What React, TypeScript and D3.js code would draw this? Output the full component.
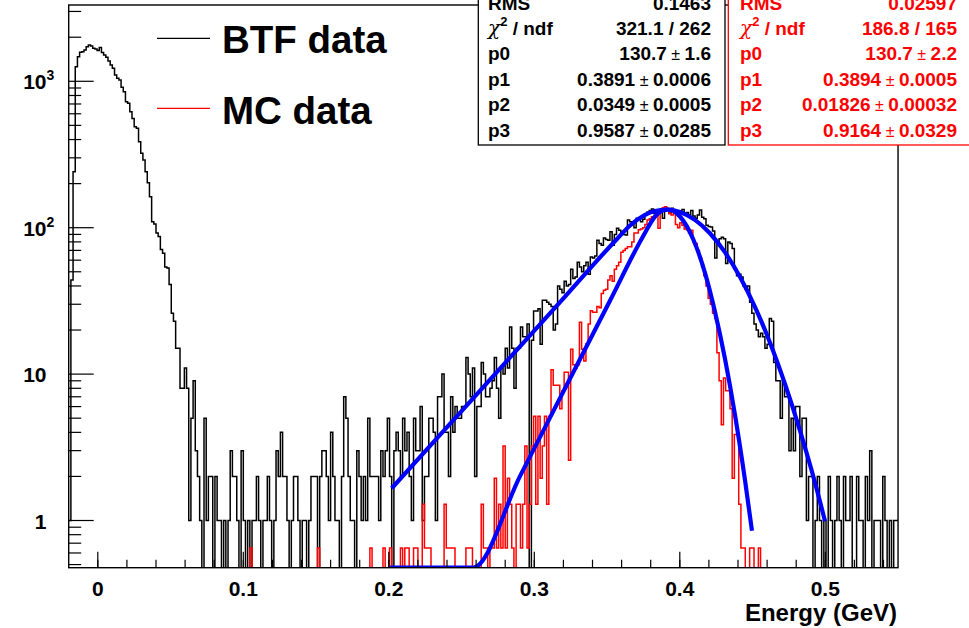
import React from 'react';
import * as d3 from 'd3';

// Histogram binning (TH1 style)
const BIN_LOW = -0.02;
const BIN_WIDTH = 0.0015;

// BTF data counts per bin
const btfCounts = [
  1, 44, 241, 1259, 1472, 1578, 1594, 1636, 1722, 1770, 1745, 1680, 1660, 1620, 1700, 1575, 1513, 1460, 1376, 1291,
  1226, 1105, 1050, 1020, 910, 849, 726, 707, 620, 558, 490, 478, 387, 322, 290, 241, 203, 163, 110, 106,
  92, 87, 71, 67, 54, 53, 41, 26, 23, 15, 15, 8, 8, 11, 8, 1, 5, 9, 3, 2,
  1, 0, 5, 1, 2, 2, 0, 2, 1, 1, 0, 1, 0, 1, 3, 2, 2, 1, 0, 3,
  1, 0, 1, 0, 1, 1, 2, 1, 0, 1, 1, 2, 1, 0, 1, 3, 2, 4, 2, 2,
  1, 0, 1, 2, 2, 1, 0, 1, 1, 0, 1, 2, 2, 2, 0, 2, 3, 3, 2, 1,
  4, 2, 1, 1, 0, 2, 7, 5, 2, 1, 1, 0, 3, 2, 1, 2, 1, 5, 2, 2,
  2, 2, 1, 3, 2, 3, 5, 2, 0, 3, 4, 3, 2, 5, 3, 4, 2, 1, 5, 3,
  3, 6, 1, 2, 2, 5, 5, 4, 1, 7, 7, 10, 4, 4, 2, 7, 4, 6, 5, 5,
  6, 6, 13, 10, 7, 11, 2, 6, 6, 12, 10, 7, 7, 8, 9, 13, 8, 5, 11, 10,
  15, 11, 21, 15, 8, 15, 15, 21, 18, 18, 22, 0, 17, 27, 27, 28, 16, 32, 32, 31,
  30, 29, 20, 22, 40, 38, 36, 43, 40, 41, 52, 45, 46, 58, 54, 50, 55, 58, 48, 63,
  62, 64, 82, 78, 76, 85, 83, 82, 94, 76, 90, 99, 96, 93, 90, 89, 113, 110, 107, 100,
  116, 115, 110, 114, 122, 128, 131, 134, 125, 122, 129, 127, 116, 130, 132, 125, 136, 131, 128, 120,
  130, 133, 125, 127, 122, 131, 120, 116, 122, 132, 118, 115, 104, 102, 101, 95, 62, 78, 84, 86,
  84, 57, 80, 78, 72, 52, 47, 48, 46, 40, 38, 40, 31, 26, 22, 20, 18, 19, 18, 15,
  16, 24, 23, 12, 9, 9, 5, 9, 7, 7, 3, 5, 3, 6, 6, 2, 5, 5, 1, 2,
  2, 0, 1, 2, 1, 0, 1, 0, 2, 1, 0, 1, 2, 1, 0, 2, 1, 1, 2, 0,
  0, 2, 1, 1, 0, 2, 1, 3, 0, 1, 1, 1, 0, 2, 1, 0, 1, 0, 1, 1,
];

// MC data (normalised) per bin
const mcCounts = [
  0, 0, 0, 0, 0, 0, 0, 0, 0, 0, 0, 0, 0, 0, 0, 0, 0, 0, 0, 0,
  0, 0, 0, 0, 0, 0, 0, 0, 0, 0, 0, 0, 0, 0, 0, 0, 0, 0, 0, 0,
  0, 0, 0, 0, 0, 0, 0, 0, 0, 0, 0, 0, 0, 0, 0, 0, 0, 0, 0, 0,
  0, 0, 0, 0, 0, 0, 0, 0, 0, 0, 0, 0, 0, 0, 0, 0, 0, 0, 0, 0,
  0, 0, 0, 0.65, 0, 0, 0, 0, 0, 0, 0, 0, 0, 0, 0, 0, 0, 0, 0, 0,
  0, 0, 0, 0, 0, 0, 0, 0, 0, 0, 0, 0, 0, 0, 0.65, 0, 0, 0, 0, 0,
  0, 0, 0, 0, 0, 0, 0, 0, 0, 0, 0, 0, 0, 0, 0, 0, 0, 0, 0.65, 0,
  0, 0, 0, 0, 0.65, 0, 0, 0.65, 0, 0, 0, 0, 0.65, 0, 0.65, 0.65, 0, 0, 0.65, 0.65,
  0, 0, 1.29, 0.65, 0.65, 0.65, 0, 0, 0, 0, 0, 0, 1.29, 0.65, 0.65, 0.65, 0.65, 0, 0, 0,
  0, 0, 0.65, 0.65, 0.65, 0, 0, 0, 0, 1.29, 0.65, 0.65, 0, 0.65, 0.65, 1.94, 0.65, 1.29, 0.65, 3.23,
  0.65, 1.94, 1.29, 0.65, 0, 1.29, 1.29, 0.65, 1.29, 3.23, 0.65, 1.29, 3.23, 5.16, 1.29, 5.16, 1.94, 3.23, 5.16, 1.29,
  5.16, 10.7, 8.4, 8.4, 8.4, 5.8, 7.7, 10.3, 10.3, 2.58, 14.8, 11.6, 11, 11.6, 22.6, 14.8, 12.3, 16.1, 22, 27.1,
  26.5, 26.5, 29, 28.4, 35.5, 37.4, 38, 44, 47, 43, 52, 55, 58, 68, 70, 72, 74, 74, 80, 92,
  92, 97, 98, 100, 105, 113, 115, 119, 120, 122, 99, 132, 137, 139, 136, 125, 122, 125, 105, 100,
  108, 104, 98, 97, 92, 96, 80, 78, 70, 62, 54, 47, 40, 33, 30, 26, 24, 14, 9, 4.5,
  9.4, 7.7, 7.7, 5.8, 1.94, 3.87, 3.87, 1.29, 0.65, 0.65, 0, 0, 0.65, 0.65, 0, 0, 0.65, 0, 0, 0,
  0, 0, 0, 0, 0, 0, 0, 0, 0, 0, 0, 0, 0, 0, 0, 0, 0, 0, 0, 0,
  0, 0, 0, 0, 0, 0, 0, 0, 0, 0, 0, 0, 0, 0, 0, 0, 0, 0, 0, 0,
  0, 0, 0, 0, 0, 0, 0, 0, 0, 0, 0, 0, 0, 0, 0, 0, 0, 0, 0, 0,
];

// Fit curves
const btfFitX = [0.202, 0.2352, 0.2764, 0.3177, 0.357, 0.3658, 0.3761, 0.383, 0.3905, 0.4001, 0.4104, 0.4207, 0.4311, 0.4414, 0.4517, 0.462, 0.4723, 0.4826, 0.493, 0.4998];
const btfFitY = [1.66, 3.84, 10.9, 31.0, 84.1, 103.5, 122.3, 130.0, 133.1, 128.2, 113.1, 91.6, 67.8, 46.0, 28.7, 16.4, 8.56, 4.11, 1.8, 0.99];
const mcFitX = [0.2009, 0.2578, 0.2902, 0.3245, 0.352, 0.3748, 0.383, 0.3915, 0.4001, 0.4093, 0.4173, 0.4241, 0.431, 0.4379, 0.4448, 0.4496];
const mcFitY = [0.3, 0.476, 2.01, 9.3, 31.7, 87.5, 119.3, 133.1, 119.3, 83.1, 49.2, 26.9, 12.8, 5.29, 1.89, 0.85];

// Axis ticks / labels
const xTickValues = [0, 0.1, 0.2, 0.3, 0.4, 0.5];
const xTickLabels = ['0', '0.1', '0.2', '0.3', '0.4', '0.5'];
const yMajorValues = [1, 10, 100, 1000];
const yMajorBase = ['1', '10', '10', '10'];
const yMajorExp = ['', '', '2', '3'];
const xAxisTitle = 'Energy (GeV)';

// Legend
const legendLabels = ['BTF data', 'MC data'];
const legendColors = ['#000000', '#ff0000'];

// Stats boxes
const btfStatRms = '0.1463';
const btfChi2 = '321.1 / 262';
const btfParamNames = ['p0', 'p1', 'p2', 'p3'];
const btfParamValues = ['130.7', '0.3891', '0.0349', '0.9587'];
const btfParamErrors = ['1.6', '0.0006', '0.0005', '0.0285'];
const mcStatRms = '0.02597';
const mcChi2 = '186.8 / 165';
const mcParamNames = ['p0', 'p1', 'p2', 'p3'];
const mcParamValues = ['130.7', '0.3894', '0.01826', '0.9164'];
const mcParamErrors = ['2.2', '0.0005', '0.00032', '0.0329'];

const W = 969;
const H = 628;
const FL = 68.7, FR = 898.05, FT = 5, FB = 567.7;
const Y_MIN = 0.476, Y_MAX = 3320;
const FONT = "'Liberation Sans', Arial, Helvetica, sans-serif";

function StatsBox({ x0, x1, labelX, valueX, color, rms, chi2, names, values, errors }: any) {
  const rowY = (i: number) => 9.5 + 25.4 * i;
  const fs = 19;
  return (
    <g fontFamily={FONT} fontWeight="bold" fontSize={fs} fill={color}>
      <rect x={x0} y={-2} width={x1 - x0} height={147} fill="#fff" stroke={color} strokeWidth={1.3} />
      <text x={labelX} y={rowY(0)}>RMS</text>
      <text x={valueX} y={rowY(0)} textAnchor="end">{rms}</text>
      <text x={labelX} y={rowY(1)}>
        <tspan fontWeight="normal" fontFamily="'DejaVu Serif', serif" fontStyle="italic" fontSize={20}>χ</tspan>
        <tspan fontSize={13} dy={-9}>2</tspan>
        <tspan dy={9}>{'\u00a0/ ndf'}</tspan>
      </text>
      <text x={valueX} y={rowY(1)} textAnchor="end">{chi2}</text>
      {names.map((n: string, i: number) => (
        <g key={n}>
          <text x={labelX} y={rowY(i + 2)}>{n}</text>
          <text x={valueX} y={rowY(i + 2)} textAnchor="end">
            <tspan>{values[i]}</tspan>
            <tspan fontWeight="normal" fontSize={16}>{'\u00a0±\u00a0'}</tspan>
            <tspan>{errors[i]}</tspan>
          </text>
        </g>
      ))}
    </g>
  );
}

export default function App() {
  const x = d3.scaleLinear().domain([-0.02, 0.55]).range([FL, FR]);
  const y = d3.scaleLog().domain([Y_MIN, Y_MAX]).range([FB, FT]);
  const yv = (v: number) => y(Math.max(v, Y_MIN));

  const histLine = d3
    .line<[number, number]>()
    .x((d) => x(d[0]))
    .y((d) => yv(d[1]))
    .curve(d3.curveStepAfter);

  const histPoints = (counts: number[]): [number, number][] => {
    const pts: [number, number][] = counts.map((c, i) => [BIN_LOW + i * BIN_WIDTH, c]);
    pts.push([BIN_LOW + counts.length * BIN_WIDTH, counts[counts.length - 1]]);
    return pts;
  };

  const fitPath = (xs: number[], ys: number[]) => {
    const pts = xs.map((xx, i) => [x(xx), yv(ys[i])] as [number, number]);
    return d3.line<[number, number]>().x((d) => d[0]).y((d) => d[1]).curve(d3.curveMonotoneX)(pts) || '';
  };

  const yTicksAll = y.ticks();
  const yMinor = yTicksAll.filter((t) => !yMajorValues.some((m) => Math.abs(m - t) < 1e-9));
  const xMinor = x.ticks(30).filter((t) => t > -0.019 && t < 0.549);

  return (
    <svg width={W} height={H} style={{ position: 'absolute', left: 0, top: 0, background: '#fff' }}>
      <rect x={0} y={0} width={W} height={H} fill="#fff" />
      <defs>
        <clipPath id="frameClip">
          <rect x={FL} y={FT} width={FR - FL} height={FB - FT} />
        </clipPath>
      </defs>

      {/* histograms */}
      <g clipPath="url(#frameClip)" fill="none">
        <path d={histLine(histPoints(btfCounts)) || ''} stroke="#000" strokeWidth={1.5} />
        <path d={histLine(histPoints(mcCounts)) || ''} stroke="#ff0000" strokeWidth={1.5} />
        <path d={fitPath(btfFitX, btfFitY)} stroke="#0000ff" strokeWidth={4.2} strokeLinecap="butt" />
        <path d={fitPath(mcFitX, mcFitY)} stroke="#0000ff" strokeWidth={4.2} strokeLinecap="butt" />
      </g>

      {/* frame */}
      <rect x={FL} y={FT} width={FR - FL} height={FB - FT} fill="none" stroke="#000" strokeWidth={1.4} />

      {/* ticks */}
      <g stroke="#000" strokeWidth={1.2}>
        {xMinor.map((t) => (
          <line key={'xm' + t} x1={x(t)} x2={x(t)} y1={FB} y2={FB - 8} />
        ))}
        {xTickValues.map((t) => (
          <line key={'xM' + t} x1={x(t)} x2={x(t)} y1={FB} y2={FB - 16} />
        ))}
        {yMinor.map((t) => (
          <line key={'ym' + t} x1={FL} x2={FL + 12.5} y1={y(t)} y2={y(t)} />
        ))}
        {yMajorValues.map((t) => (
          <line key={'yM' + t} x1={FL} x2={FL + 25} y1={y(t)} y2={y(t)} />
        ))}
      </g>

      {/* axis labels */}
      <g fontFamily={FONT} fontWeight="bold" fontSize={21} fill="#000">
        {xTickValues.map((t, i) => (
          <text key={'xl' + t} x={x(t)} y={596} textAnchor="middle">
            {xTickLabels[i]}
          </text>
        ))}
        <text x={897} y={621} textAnchor="end" fontSize={24}>{xAxisTitle}</text>
        {yMajorValues.map((t, i) => (
          <g key={'yl' + t}>
            <text x={46.5} y={y(t) + 8} textAnchor="end">{yMajorBase[i]}</text>
            {yMajorExp[i] && (
              <text x={46.5} y={y(t) - 1} fontSize={14} textAnchor="start">{yMajorExp[i]}</text>
            )}
          </g>
        ))}
      </g>

      {/* legend */}
      <g fontFamily={FONT} fontWeight="bold" fontSize={38.5}>
        {legendLabels.map((l, i) => (
          <g key={l}>
            <line x1={157} x2={210} y1={38.3 + 70 * i} y2={38.3 + 70 * i} stroke={legendColors[i]} strokeWidth={1.3} />
            <text x={222} y={53.3 + 70.7 * i} fill="#000">{l}</text>
          </g>
        ))}
      </g>

      {/* stats boxes */}
      <StatsBox x0={478.3} x1={725} labelX={488} valueX={711} color="#000" rms={btfStatRms} chi2={btfChi2}
        names={btfParamNames} values={btfParamValues} errors={btfParamErrors} />
      <StatsBox x0={728.3} x1={980} labelX={740} valueX={957} color="#ff0000" rms={mcStatRms} chi2={mcChi2}
        names={mcParamNames} values={mcParamValues} errors={mcParamErrors} />
    </svg>
  );
}
